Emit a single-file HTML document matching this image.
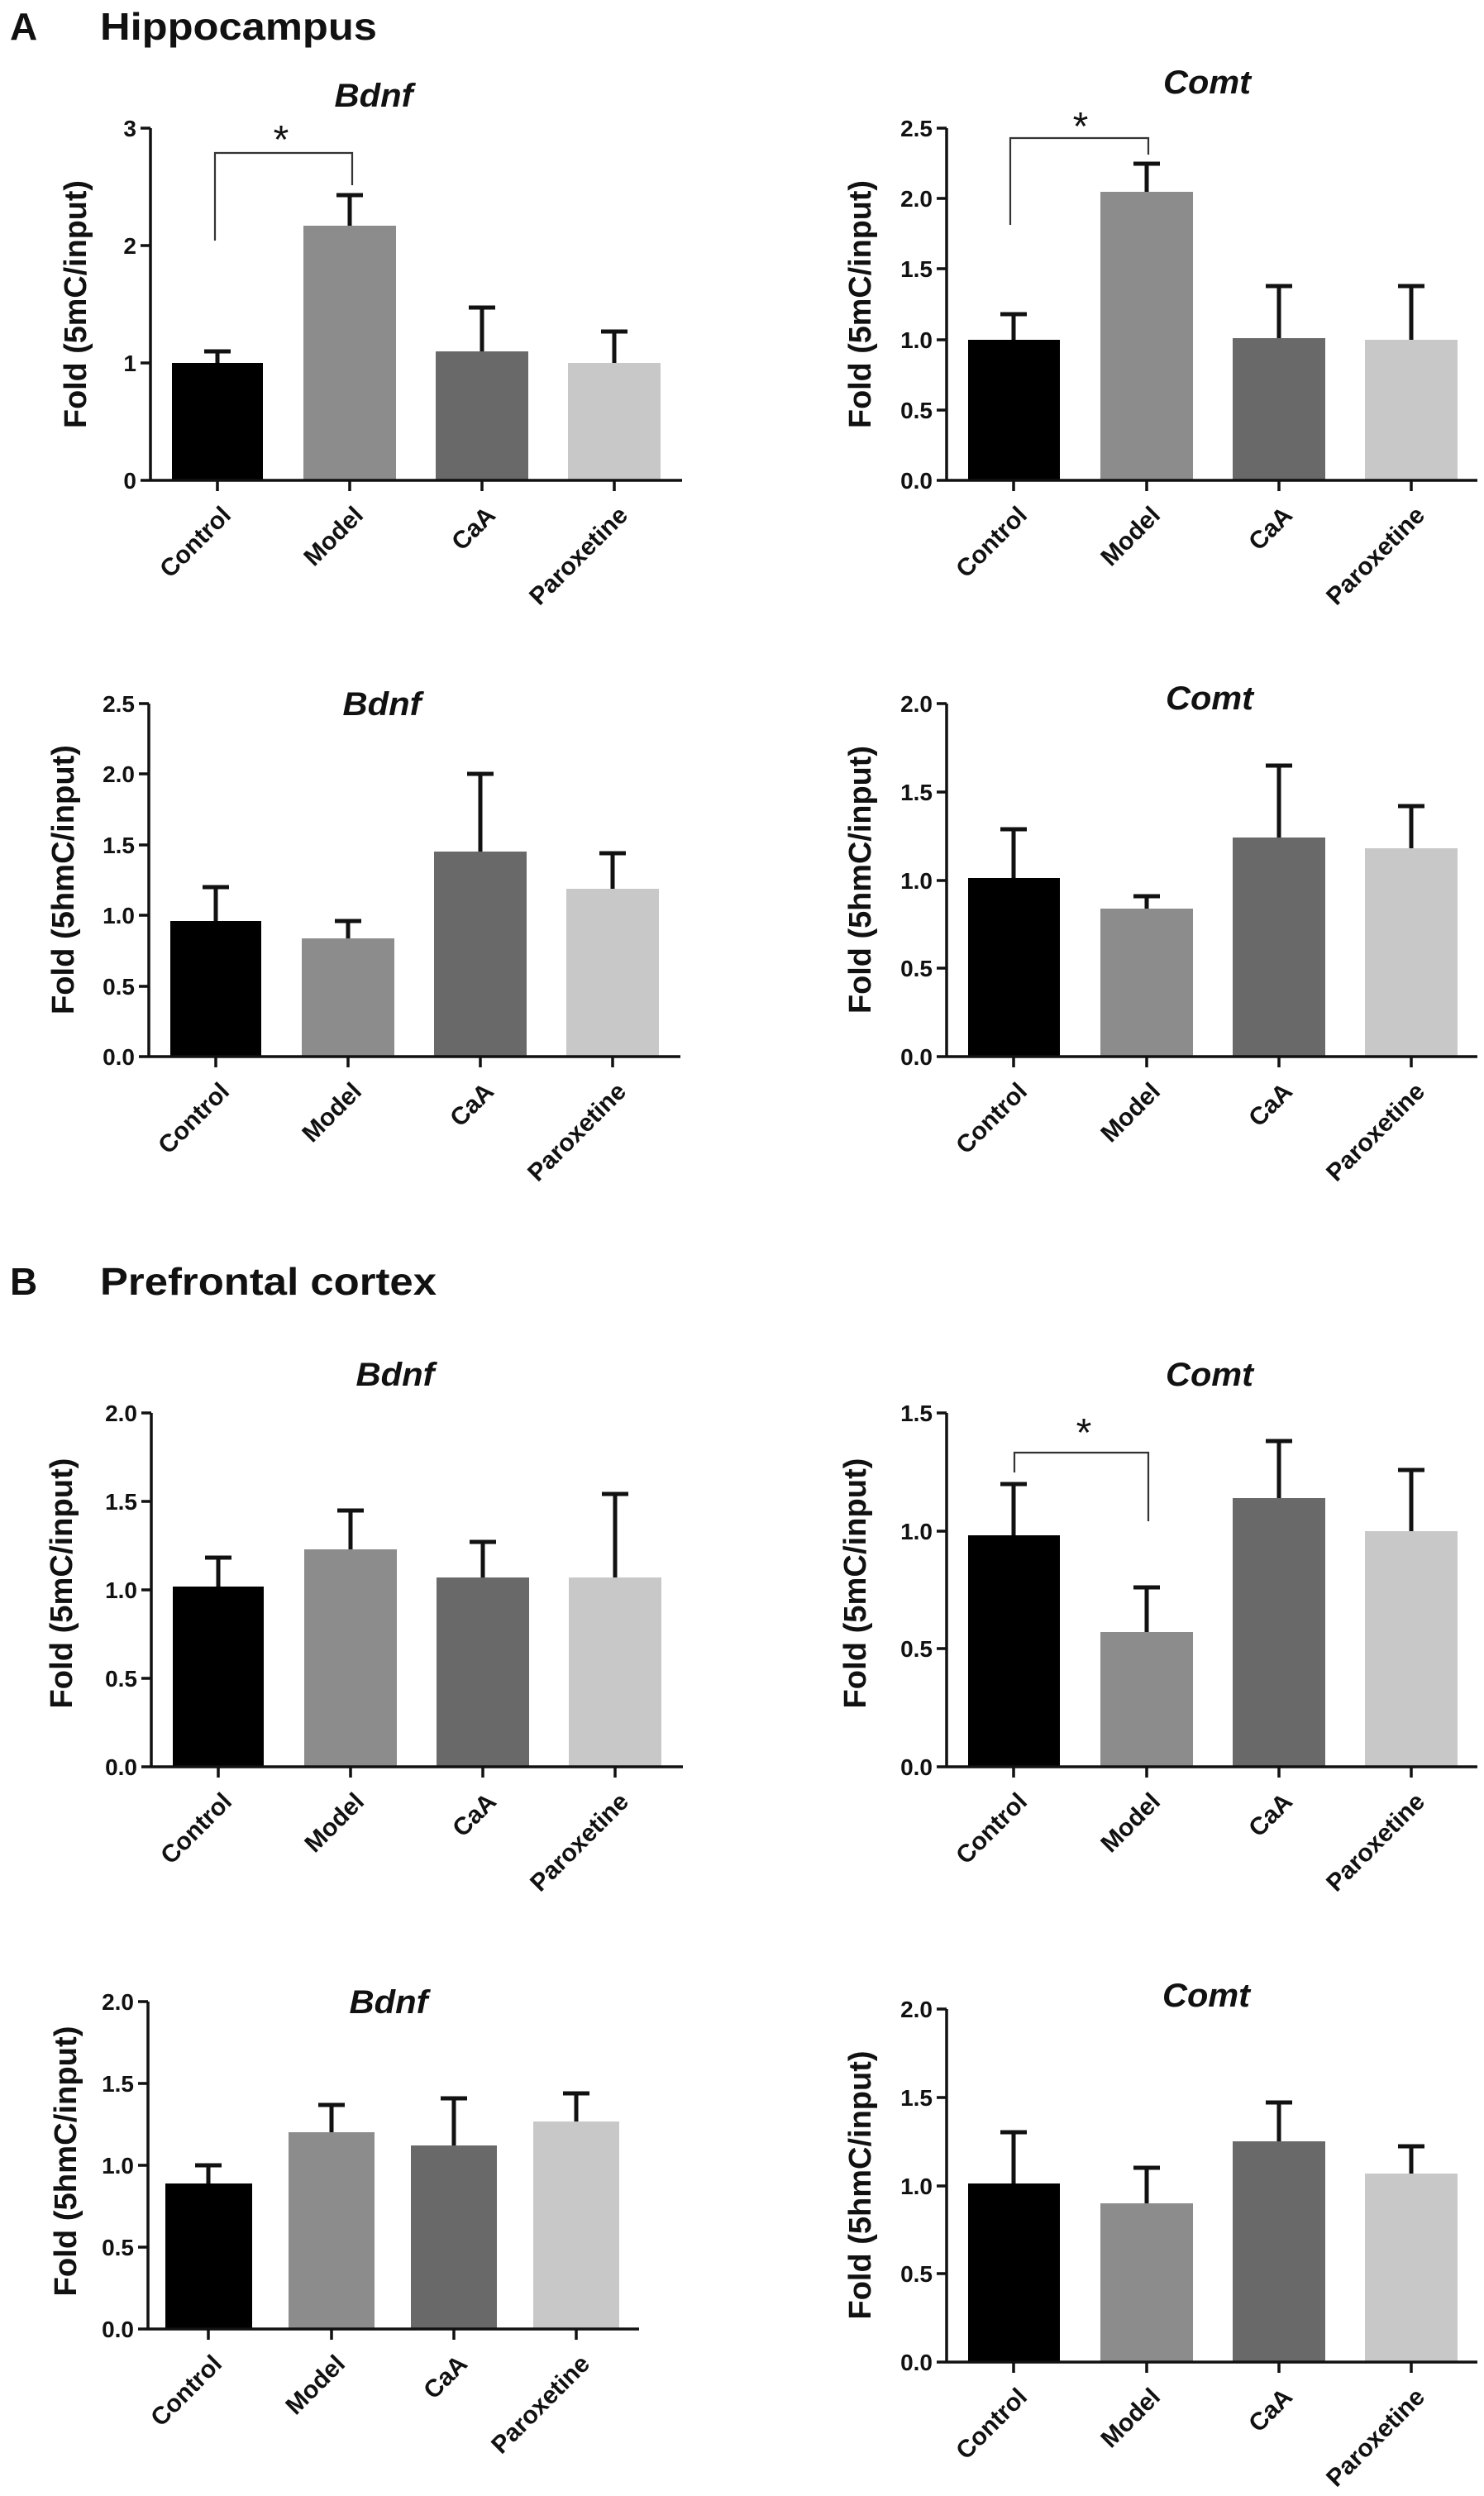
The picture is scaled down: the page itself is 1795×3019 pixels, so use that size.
<!DOCTYPE html>
<html><head><meta charset="utf-8"><style>
html,body{margin:0;padding:0;background:#fff}
svg{display:block}
text{font-family:"Liberation Sans",Arial,sans-serif;font-weight:bold;fill:#111}
.t{font-size:28px;text-anchor:end}
.x{font-size:30px;text-anchor:end}
.y{font-size:38px;text-anchor:middle}
.ti{font-size:40px;font-style:italic;text-anchor:middle}
.h{font-size:46px}
.ax{stroke:#111;stroke-width:3.5;fill:none}
.e{stroke:#111;stroke-width:5;fill:none}
.br{stroke:#333;stroke-width:2.2;fill:none}
</style></head><body>
<svg width="1795" height="3019" viewBox="0 0 1795 3019" xmlns="http://www.w3.org/2000/svg">
<text class="h" x="12" y="48">A</text>
<text class="h" x="121" y="48" textLength="335" lengthAdjust="spacingAndGlyphs">Hippocampus</text>
<text class="h" x="12" y="1566">B</text>
<text class="h" x="121" y="1566" textLength="407" lengthAdjust="spacingAndGlyphs">Prefrontal cortex</text>

<g>
<text class="ti" x="452" y="129" textLength="95" lengthAdjust="spacingAndGlyphs">Bdnf</text>
<rect x="208" y="439" width="110" height="142" fill="#000"/>
<rect x="367" y="273" width="112" height="308" fill="#8c8c8c"/>
<rect x="527" y="425" width="112" height="156" fill="#696969"/>
<rect x="687" y="439" width="112" height="142" fill="#c8c8c8"/>
<path class="e" d="M263 439V425M247 425H279M423 273V236M407 236H439M583 425V372M567 372H599M743 439V401M727 401H759"/>
<path class="ax" d="M182 155V581H825M170 155H182M170 297H182M170 439H182M170 581H182M263 581V594M423 581V594M583 581V594M743 581V594"/>
<text class="t" x="165" y="591">0</text><text class="t" x="165" y="449">1</text><text class="t" x="165" y="307">2</text><text class="t" x="165" y="165">3</text>
<path class="br" d="M260 291V185H426V224"/>
<text x="340" y="185" style="font-size:48px;text-anchor:middle;font-weight:normal">*</text>
<text class="y" transform="translate(104,368) rotate(-90)" textLength="300" lengthAdjust="spacingAndGlyphs">Fold (5mC/input)</text>
<text class="x" transform="translate(281,625) rotate(-45)">Control</text>
<text class="x" transform="translate(441,625) rotate(-45)">Model</text>
<text class="x" transform="translate(601,625) rotate(-45)">CaA</text>
<text class="x" transform="translate(761,625) rotate(-45)">Paroxetine</text>
</g>

<g>
<text class="ti" x="1460" y="113" textLength="106" lengthAdjust="spacingAndGlyphs">Comt</text>
<rect x="1171" y="411" width="111" height="170" fill="#000"/>
<rect x="1331" y="232" width="112" height="349" fill="#8c8c8c"/>
<rect x="1491" y="409" width="112" height="172" fill="#696969"/>
<rect x="1651" y="411" width="112" height="170" fill="#c8c8c8"/>
<path class="e" d="M1226 411V380M1210 380H1242M1387 232V198M1371 198H1403M1547 409V346M1531 346H1563M1707 411V346M1691 346H1723"/>
<path class="ax" d="M1145 155V581H1787M1133 155H1145M1133 240H1145M1133 325H1145M1133 411H1145M1133 496H1145M1133 581H1145M1226 581V594M1387 581V594M1547 581V594M1707 581V594"/>
<text class="t" x="1128" y="591">0.0</text><text class="t" x="1128" y="506">0.5</text><text class="t" x="1128" y="421">1.0</text><text class="t" x="1128" y="335">1.5</text><text class="t" x="1128" y="250">2.0</text><text class="t" x="1128" y="165">2.5</text>
<path class="br" d="M1222 272V167H1389V187"/>
<text x="1307" y="169" style="font-size:48px;text-anchor:middle;font-weight:normal">*</text>
<text class="y" transform="translate(1053,368) rotate(-90)" textLength="300" lengthAdjust="spacingAndGlyphs">Fold (5mC/input)</text>
<text class="x" transform="translate(1244,625) rotate(-45)">Control</text>
<text class="x" transform="translate(1405,625) rotate(-45)">Model</text>
<text class="x" transform="translate(1565,625) rotate(-45)">CaA</text>
<text class="x" transform="translate(1725,625) rotate(-45)">Paroxetine</text>
</g>

<g>
<text class="ti" x="462" y="865" textLength="95" lengthAdjust="spacingAndGlyphs">Bdnf</text>
<rect x="206" y="1114" width="110" height="164" fill="#000"/>
<rect x="365" y="1135" width="112" height="143" fill="#8c8c8c"/>
<rect x="525" y="1030" width="112" height="248" fill="#696969"/>
<rect x="685" y="1075" width="112" height="203" fill="#c8c8c8"/>
<path class="e" d="M261 1114V1073M245 1073H277M421 1135V1114M405 1114H437M581 1030V936M565 936H597M741 1075V1032M725 1032H757"/>
<path class="ax" d="M180 851V1278H823M168 851H180M168 936H180M168 1022H180M168 1107H180M168 1193H180M168 1278H180M261 1278V1291M421 1278V1291M581 1278V1291M741 1278V1291"/>
<text class="t" x="163" y="1288">0.0</text><text class="t" x="163" y="1203">0.5</text><text class="t" x="163" y="1117">1.0</text><text class="t" x="163" y="1032">1.5</text><text class="t" x="163" y="946">2.0</text><text class="t" x="163" y="861">2.5</text>
<text class="y" transform="translate(89,1064) rotate(-90)" textLength="326" lengthAdjust="spacingAndGlyphs">Fold (5hmC/input)</text>
<text class="x" transform="translate(279,1322) rotate(-45)">Control</text>
<text class="x" transform="translate(439,1322) rotate(-45)">Model</text>
<text class="x" transform="translate(599,1322) rotate(-45)">CaA</text>
<text class="x" transform="translate(759,1322) rotate(-45)">Paroxetine</text>
</g>

<g>
<text class="ti" x="1463" y="858" textLength="106" lengthAdjust="spacingAndGlyphs">Comt</text>
<rect x="1171" y="1062" width="111" height="216" fill="#000"/>
<rect x="1331" y="1099" width="112" height="179" fill="#8c8c8c"/>
<rect x="1491" y="1013" width="112" height="265" fill="#696969"/>
<rect x="1651" y="1026" width="112" height="252" fill="#c8c8c8"/>
<path class="e" d="M1226 1062V1003M1210 1003H1242M1387 1099V1084M1371 1084H1403M1547 1013V926M1531 926H1563M1707 1026V975M1691 975H1723"/>
<path class="ax" d="M1145 851V1278H1787M1133 851H1145M1133 958H1145M1133 1065H1145M1133 1171H1145M1133 1278H1145M1226 1278V1291M1387 1278V1291M1547 1278V1291M1707 1278V1291"/>
<text class="t" x="1128" y="1288">0.0</text><text class="t" x="1128" y="1181">0.5</text><text class="t" x="1128" y="1075">1.0</text><text class="t" x="1128" y="968">1.5</text><text class="t" x="1128" y="861">2.0</text>
<text class="y" transform="translate(1053,1064) rotate(-90)" textLength="324" lengthAdjust="spacingAndGlyphs">Fold (5hmC/input)</text>
<text class="x" transform="translate(1244,1322) rotate(-45)">Control</text>
<text class="x" transform="translate(1405,1322) rotate(-45)">Model</text>
<text class="x" transform="translate(1565,1322) rotate(-45)">CaA</text>
<text class="x" transform="translate(1725,1322) rotate(-45)">Paroxetine</text>
</g>

<g>
<text class="ti" x="478" y="1676" textLength="95" lengthAdjust="spacingAndGlyphs">Bdnf</text>
<rect x="209" y="1919" width="110" height="218" fill="#000"/>
<rect x="368" y="1874" width="112" height="263" fill="#8c8c8c"/>
<rect x="528" y="1908" width="112" height="229" fill="#696969"/>
<rect x="688" y="1908" width="112" height="229" fill="#c8c8c8"/>
<path class="e" d="M264 1919V1884M248 1884H280M424 1874V1827M408 1827H440M584 1908V1865M568 1865H600M744 1908V1807M728 1807H760"/>
<path class="ax" d="M183 1709V2137H826M171 1709H183M171 1816H183M171 1923H183M171 2030H183M171 2137H183M264 2137V2150M424 2137V2150M584 2137V2150M744 2137V2150"/>
<text class="t" x="166" y="2147">0.0</text><text class="t" x="166" y="2040">0.5</text><text class="t" x="166" y="1933">1.0</text><text class="t" x="166" y="1826">1.5</text><text class="t" x="166" y="1719">2.0</text>
<text class="y" transform="translate(87,1915) rotate(-90)" textLength="303" lengthAdjust="spacingAndGlyphs">Fold (5mC/input)</text>
<text class="x" transform="translate(282,2181) rotate(-45)">Control</text>
<text class="x" transform="translate(442,2181) rotate(-45)">Model</text>
<text class="x" transform="translate(602,2181) rotate(-45)">CaA</text>
<text class="x" transform="translate(762,2181) rotate(-45)">Paroxetine</text>
</g>

<g>
<text class="ti" x="1463" y="1676" textLength="106" lengthAdjust="spacingAndGlyphs">Comt</text>
<rect x="1171" y="1857" width="111" height="280" fill="#000"/>
<rect x="1331" y="1974" width="112" height="163" fill="#8c8c8c"/>
<rect x="1491" y="1812" width="112" height="325" fill="#696969"/>
<rect x="1651" y="1852" width="112" height="285" fill="#c8c8c8"/>
<path class="e" d="M1226 1857V1795M1210 1795H1242M1387 1974V1920M1371 1920H1403M1547 1812V1743M1531 1743H1563M1707 1852V1778M1691 1778H1723"/>
<path class="ax" d="M1145 1709V2137H1787M1133 1709H1145M1133 1852H1145M1133 1994H1145M1133 2137H1145M1226 2137V2150M1387 2137V2150M1547 2137V2150M1707 2137V2150"/>
<text class="t" x="1128" y="2147">0.0</text><text class="t" x="1128" y="2004">0.5</text><text class="t" x="1128" y="1862">1.0</text><text class="t" x="1128" y="1719">1.5</text>
<path class="br" d="M1227 1781V1757H1389V1840"/>
<text x="1311" y="1749" style="font-size:48px;text-anchor:middle;font-weight:normal">*</text>
<text class="y" transform="translate(1047,1915) rotate(-90)" textLength="303" lengthAdjust="spacingAndGlyphs">Fold (5mC/input)</text>
<text class="x" transform="translate(1244,2181) rotate(-45)">Control</text>
<text class="x" transform="translate(1405,2181) rotate(-45)">Model</text>
<text class="x" transform="translate(1565,2181) rotate(-45)">CaA</text>
<text class="x" transform="translate(1725,2181) rotate(-45)">Paroxetine</text>
</g>

<g>
<text class="ti" x="470" y="2435" textLength="95" lengthAdjust="spacingAndGlyphs">Bdnf</text>
<rect x="200" y="2641" width="105" height="176" fill="#000"/>
<rect x="349" y="2579" width="104" height="238" fill="#8c8c8c"/>
<rect x="497" y="2595" width="104" height="222" fill="#696969"/>
<rect x="645" y="2566" width="104" height="251" fill="#c8c8c8"/>
<path class="e" d="M252 2641V2619M236 2619H268M401 2579V2546M385 2546H417M549 2595V2538M533 2538H565M697 2566V2532M681 2532H713"/>
<path class="ax" d="M179 2421V2817H773M167 2421H179M167 2520H179M167 2619H179M167 2718H179M167 2817H179M252 2817V2830M401 2817V2830M549 2817V2830M697 2817V2830"/>
<text class="t" x="162" y="2827">0.0</text><text class="t" x="162" y="2728">0.5</text><text class="t" x="162" y="2629">1.0</text><text class="t" x="162" y="2530">1.5</text><text class="t" x="162" y="2431">2.0</text>
<text class="y" transform="translate(92,2614) rotate(-90)" textLength="327" lengthAdjust="spacingAndGlyphs">Fold (5hmC/input)</text>
<text class="x" transform="translate(270,2861) rotate(-45)">Control</text>
<text class="x" transform="translate(419,2861) rotate(-45)">Model</text>
<text class="x" transform="translate(567,2861) rotate(-45)">CaA</text>
<text class="x" transform="translate(715,2861) rotate(-45)">Paroxetine</text>
</g>

<g>
<text class="ti" x="1459" y="2427" textLength="106" lengthAdjust="spacingAndGlyphs">Comt</text>
<rect x="1171" y="2641" width="111" height="216" fill="#000"/>
<rect x="1331" y="2665" width="112" height="192" fill="#8c8c8c"/>
<rect x="1491" y="2590" width="112" height="267" fill="#696969"/>
<rect x="1651" y="2629" width="112" height="228" fill="#c8c8c8"/>
<path class="e" d="M1226 2641V2579M1210 2579H1242M1387 2665V2622M1371 2622H1403M1547 2590V2543M1531 2543H1563M1707 2629V2596M1691 2596H1723"/>
<path class="ax" d="M1145 2430V2857H1787M1133 2430H1145M1133 2537H1145M1133 2644H1145M1133 2750H1145M1133 2857H1145M1226 2857V2870M1387 2857V2870M1547 2857V2870M1707 2857V2870"/>
<text class="t" x="1128" y="2867">0.0</text><text class="t" x="1128" y="2760">0.5</text><text class="t" x="1128" y="2654">1.0</text><text class="t" x="1128" y="2547">1.5</text><text class="t" x="1128" y="2440">2.0</text>
<text class="y" transform="translate(1053,2643) rotate(-90)" textLength="325" lengthAdjust="spacingAndGlyphs">Fold (5hmC/input)</text>
<text class="x" transform="translate(1244,2901) rotate(-45)">Control</text>
<text class="x" transform="translate(1405,2901) rotate(-45)">Model</text>
<text class="x" transform="translate(1565,2901) rotate(-45)">CaA</text>
<text class="x" transform="translate(1725,2901) rotate(-45)">Paroxetine</text>
</g>
</svg>
</body></html>
